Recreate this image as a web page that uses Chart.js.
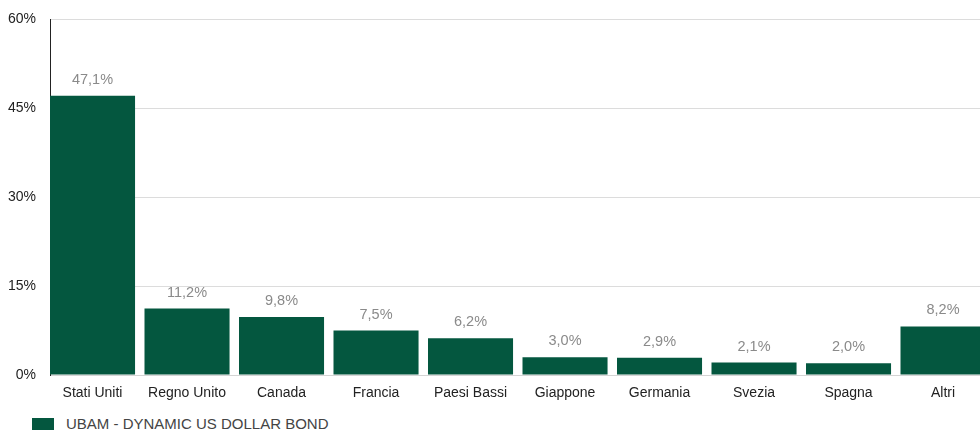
<!DOCTYPE html>
<html>
<head>
<meta charset="utf-8">
<script src="https://cdn.jsdelivr.net/npm/chart.js@4.4.1/dist/chart.umd.min.js"></script>
<style>
  html, body { margin: 0; padding: 0; overflow: hidden; background: #fff; }
  #wrap { position: relative; width: 980px; height: 430px; overflow: hidden; }
  #chartContainer { position: absolute; left: 0; top: -3px; }
  #legend { position: absolute; left: 32px; top: 415px; font: 15px "Liberation Sans", Arial, Helvetica, sans-serif; color: #444; white-space: nowrap; }
  #legend .box { display: inline-block; width: 22px; height: 12px; margin-right: 12px; vertical-align: -1px; }
</style>
</head>
<body>
<div id="wrap">
  <canvas id="chartContainer" width="995" height="416"></canvas>
  <div id="legend"></div>
</div>
<script>
// données du graphique
var categories = ['Stati Uniti', 'Regno Unito', 'Canada', 'Francia', 'Paesi Bassi', 'Giappone', 'Germania', 'Svezia', 'Spagna', 'Altri'];
var values = [47.1, 11.2, 9.8, 7.5, 6.2, 3.0, 2.9, 2.1, 2.0, 8.2];
var seriesName = 'UBAM - DYNAMIC US DOLLAR BOND';
var yTicks = [0, 15, 30, 45, 60];

var FONT = '"Liberation Sans", Arial, Helvetica, sans-serif';
var GREEN = '#04573f';

// points {x, y} pour un axe x linéaire (barres calées à gauche de chaque case)
var points = values.map(function(v, i) { return { x: i, y: v }; });

// étiquettes au-dessus des barres
var valueLabels = {
    id: 'valueLabels',
    afterDatasetsDraw: function(chart) {
        var ctx = chart.ctx;
        var meta = chart.getDatasetMeta(0);
        ctx.save();
        ctx.font = '14.5px ' + FONT;
        ctx.fillStyle = '#8a8a8a';
        ctx.textAlign = 'center';
        ctx.textBaseline = 'middle';
        meta.data.forEach(function(bar, i) {
            ctx.fillText(values[i].toFixed(1).replace('.', ',') + '%', bar.x, bar.y - 16);
        });
        ctx.restore();
    }
};

var ctx = document.getElementById('chartContainer').getContext('2d');
ctx.chart = new Chart(ctx, {
    type: 'bar',
    data: {
        datasets: [{
            label: seriesName,
            data: points,
            backgroundColor: GREEN,
            borderWidth: 0,
            barPercentage: 0.9,
            categoryPercentage: 1.0
        }]
    },
    options: {
        responsive: false,
        animation: false,
        layout: { padding: { top: 13, right: 0, left: 0, bottom: 0 } },
        scales: {
            x: {
                type: 'linear',
                offset: false,
                min: -0.45,
                max: 9.55,
                afterBuildTicks: function(scale) {
                    scale.ticks = categories.map(function(c, i) { return { value: i }; });
                },
                grid: { display: false },
                border: { display: true, color: '#d4d4d4' },
                ticks: {
                    color: '#222',
                    font: { family: FONT, size: 14 },
                    padding: 2,
                    maxRotation: 0,
                    autoSkip: false,
                    callback: function(v) { return categories[v]; }
                },
                afterFit: function(scale) { scale.height = 38; }
            },
            y: {
                min: 0,
                max: 60,
                afterBuildTicks: function(scale) {
                    scale.ticks = yTicks.map(function(v) { return { value: v }; });
                },
                grid: { color: '#dcdcdc', drawTicks: false },
                border: { display: true, color: '#222' },
                ticks: {
                    color: '#222',
                    font: { family: FONT, size: 14 },
                    padding: 14,
                    callback: function(v) { return v + '%'; }
                },
                afterFit: function(scale) { scale.width = 50; }
            }
        },
        plugins: {
            legend: { display: false },
            tooltip: { enabled: false }
        }
    },
    plugins: [valueLabels]
});

// légende en HTML
var legend = document.getElementById('legend');
legend.innerHTML = '<span class="box" style="background:' + GREEN + '"></span>' + seriesName;
</script>
</body>
</html>
